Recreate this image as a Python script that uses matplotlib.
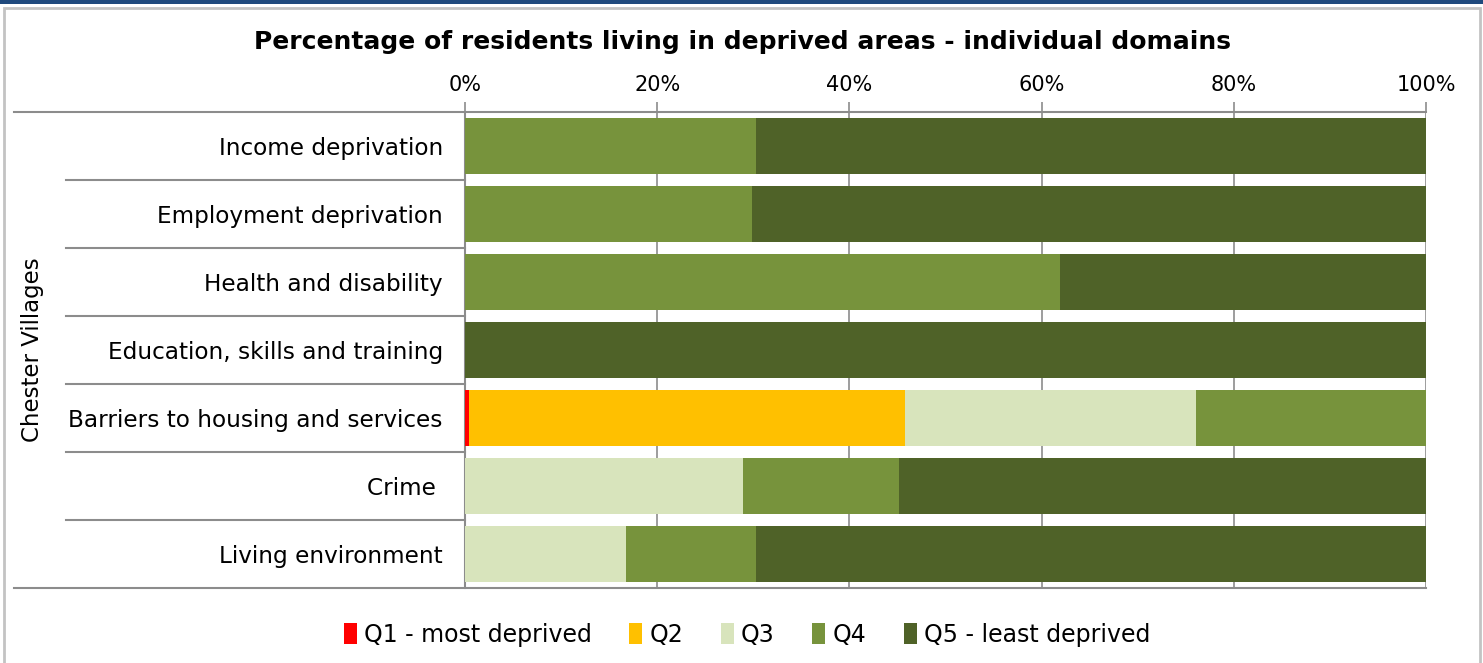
import matplotlib

matplotlib.use("Agg")
import matplotlib.pyplot as plt
from matplotlib.patches import Rectangle
import numpy as np

DOMAINS = [
    "Income deprivation",
    "Employment deprivation",
    "Health and disability",
    "Education, skills and training",
    "Barriers to housing and services",
    "Crime ",
    "Living environment",
]
SERIES = ["Q1 - most deprived", "Q2", "Q3", "Q4", "Q5 - least deprived"]
Q1 = [0.0, 0.0, 0.0, 0.0, 0.4, 0.0, 0.0]
Q2 = [0.0, 0.0, 0.0, 0.0, 45.4, 0.0, 0.0]
Q3 = [0.0, 0.0, 0.0, 0.0, 30.3, 28.9, 16.8]
Q4 = [30.3, 29.9, 61.9, 0.0, 23.9, 16.3, 13.5]
Q5 = [69.7, 70.1, 38.1, 100.0, 0.0, 54.8, 69.7]
COLORS = ["#FF0000", "#FFC000", "#D8E4BC", "#77933C", "#4F6228"]
GROUP = "Chester Villages"
TITLE = "Percentage of residents living in deprived areas - individual domains"
XTICKS = [0, 20, 40, 60, 80, 100]

GRID = "#8C8C8C"
FONT = ["DejaVu Sans"]
LEGEND_FONT = ["Liberation Sans Narrow", "DejaVu Sans"]

plt.rcParams["font.family"] = FONT

fig = plt.figure(figsize=(14.83, 6.63), dpi=100)
W, H = 1483, 663

# blue strip at very top and light frame around the chart
fig.add_artist(Rectangle((0, 1 - 4 / H), 1, 4 / H, transform=fig.transFigure,
                         facecolor="#1F497D", edgecolor="none"))
fig.add_artist(Rectangle((4 / W, -0.01), (1480 - 4) / W, (663 - 8) / H + 0.01,
                         transform=fig.transFigure, facecolor="none",
                         edgecolor="#C3C3C3", linewidth=2))

left, right, top, bottom = 465, 1426, 112, 588
ax = fig.add_axes([left / W, 1 - bottom / H, (right - left) / W, (bottom - top) / H])

y = np.arange(len(DOMAINS))
cum = np.zeros(len(DOMAINS))
for name, vals, color in zip(SERIES, [Q1, Q2, Q3, Q4, Q5], COLORS):
    vals = np.array(vals)
    ax.barh(y, vals, left=cum, height=0.82, color=color, label=name,
            edgecolor="none", zorder=3)
    cum += vals

ax.set_xlim(0, 100)
ax.set_ylim(len(DOMAINS) - 0.5, -0.5)
ax.xaxis.tick_top()
ax.set_xticks(XTICKS)
ax.set_xticklabels([f"{t}%" for t in XTICKS], fontsize=15)
ax.tick_params(axis="x", length=7, width=1.2, color=GRID, pad=5)
ax.grid(axis="x", color=GRID, linewidth=1.2, zorder=0)

ax.set_yticks(y)
ax.set_yticklabels(DOMAINS, fontsize=16.7)
ax.tick_params(axis="y", length=0, pad=16)

for side in ["right", "bottom", "top"]:
    ax.spines[side].set_visible(False)
ax.spines["left"].set_color(GRID)
ax.spines["left"].set_linewidth(1.5)

# category separator lines extending left of the axis
x_inner = (66 - left) / (right - left)
x_outer = (14 - left) / (right - left)
trans = ax.get_yaxis_transform()
bounds = np.arange(len(DOMAINS) + 1) - 0.5
for i, b in enumerate(bounds):
    x0 = x_outer if i in (0, len(bounds) - 1) else x_inner
    x1 = 1.0 if i in (0, len(bounds) - 1) else 0.0
    ax.plot([x0, x1], [b, b], transform=trans, color=GRID, linewidth=1.5,
            clip_on=False, zorder=4)

fig.text(33 / W, 1 - 350 / H, GROUP, rotation=90, ha="center", va="center",
         fontsize=16.5)
fig.text(742 / W, 1 - 42 / H, TITLE, ha="center", va="center", fontsize=18,
         fontweight="bold")

handles, labels = ax.get_legend_handles_labels()
fig.legend(handles, labels, loc="center", bbox_to_anchor=(747 / W, 1 - 635 / H),
           ncol=5, frameon=False, prop={"family": LEGEND_FONT, "size": 17},
           handlelength=0.55, handleheight=1.0, handletextpad=0.3,
           columnspacing=1.6)

fig.savefig("out.png", dpi=100)
